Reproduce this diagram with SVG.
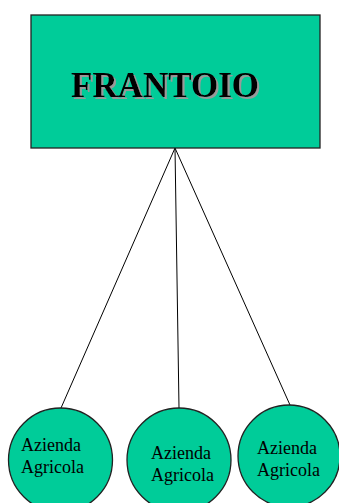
<svg xmlns="http://www.w3.org/2000/svg" width="339" height="503" viewBox="0 0 339 503">
<defs>
<filter id="shadow" x="-10%" y="-20%" width="120%" height="150%">
<feOffset in="SourceAlpha" dx="2" dy="2" result="off"/>
<feFlood flood-color="#999"/>
<feComposite in2="off" operator="in" result="sh"/>
<feMerge><feMergeNode in="sh"/><feMergeNode in="SourceGraphic"/></feMerge>
</filter>
</defs>
<style>
.node{fill:#00CC99;stroke:#222;stroke-width:1.3}
.big{font-family:"Liberation Serif",serif;font-weight:bold;font-size:35px;fill:#000}
.lbl{font-family:"Liberation Serif",serif;font-size:18px;fill:#000}
.edge{stroke:#000;stroke-width:1;fill:none}
</style>
<rect width="339" height="503" fill="#fff"/>
<g id="connectors">
<line class="edge" x1="175" y1="148" x2="61" y2="408"/>
<line class="edge" x1="175" y1="148" x2="179" y2="408"/>
<line class="edge" x1="175" y1="148" x2="290" y2="405"/>
</g>
<g id="frantoio">
<rect class="node" x="31" y="15" width="289" height="133"/>
<text class="big" x="71" y="97" filter="url(#shadow)">FRANTOIO</text>
</g>
<g id="azienda1">
<circle class="node" cx="60.5" cy="460" r="52"/>
<text class="lbl" x="21" y="451">Azienda</text>
<text class="lbl" x="21" y="473">Agricola</text>
</g>
<g id="azienda2">
<circle class="node" cx="179" cy="460" r="52"/>
<text class="lbl" x="151" y="459">Azienda</text>
<text class="lbl" x="151" y="481">Agricola</text>
</g>
<g id="azienda3">
<circle class="node" cx="289" cy="456" r="51"/>
<text class="lbl" x="257" y="454">Azienda</text>
<text class="lbl" x="257" y="476">Agricola</text>
</g>
</svg>
